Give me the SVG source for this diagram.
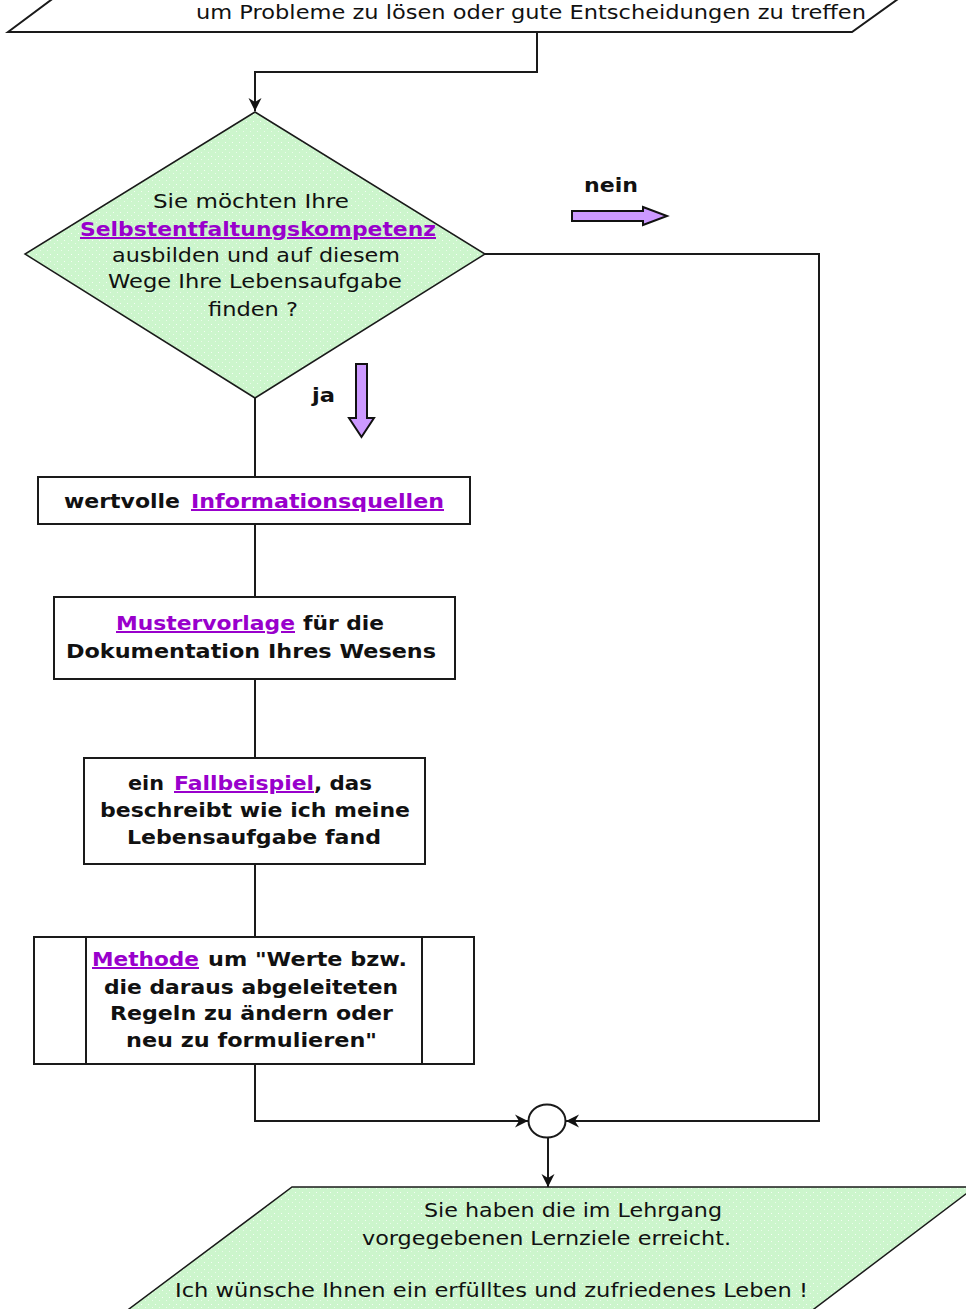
<svg xmlns="http://www.w3.org/2000/svg" width="966" height="1309" viewBox="0 0 966 1309">
<defs>
<style>
.ln{fill:none;stroke:#1a1a1a;stroke-width:2}
.box{fill:#ffffff;stroke:#1a1a1a;stroke-width:2}
.green{fill:url(#dots);stroke:#1a1a1a;stroke-width:1.5}
.t{font-family:"DejaVu Sans","Verdana",sans-serif;font-size:19px;fill:#111}
.b{font-family:"DejaVu Sans","Verdana",sans-serif;font-size:20px;font-weight:bold;fill:#111}
.lk{fill:#9900cc;text-decoration:underline}
.blk{fill:#cc99ff;stroke:#111;stroke-width:2}
</style>
<pattern id="dots" width="7" height="7" patternUnits="userSpaceOnUse">
<rect width="7" height="7" fill="#ccf5cc"/>
<rect x="1" y="2" width="1" height="1" fill="#ffffff" opacity="0.8"/>
<rect x="5" y="5" width="1" height="1" fill="#ffffff" opacity="0.6"/>
</pattern>
<marker id="ah" markerWidth="16" markerHeight="16" refX="13" refY="7" orient="auto" markerUnits="userSpaceOnUse">
<path d="M0,0.5 L13,7 L0,13.5 L4,7 z" fill="#111"/>
</marker>
</defs>

<g id="start">
<path class="box" d="M8,32 L59,-6 L905,-6 L852,32 Z"/>
<text class="t" x="196" y="19" textLength="670" lengthAdjust="spacingAndGlyphs">um Probleme zu lösen oder gute Entscheidungen zu treffen</text>
</g>

<g id="connectors">
<path class="ln" d="M537,32 V72 H255 V111" marker-end="url(#ah)"/>
<path class="ln" d="M485,254 H819 V1121 H566" marker-end="url(#ah)"/>
<path class="ln" d="M255,398 V477 M255,524 V597 M255,679 V758 M255,864 V937"/>
<path class="ln" d="M255,1064 V1121 H528" marker-end="url(#ah)"/>
<path class="ln" d="M548,1138 V1187" marker-end="url(#ah)"/>
</g>

<g id="decision">
<polygon class="green" points="255,112 485,254 255,398 25,254"/>
<text class="t" x="153" y="208" textLength="196" lengthAdjust="spacingAndGlyphs">Sie möchten Ihre</text>
<text class="b lk" x="80" y="236" textLength="356" lengthAdjust="spacingAndGlyphs">Selbstentfaltungskompetenz</text>
<text class="t" x="112" y="262" textLength="288" lengthAdjust="spacingAndGlyphs">ausbilden und auf diesem</text>
<text class="t" x="108" y="288" textLength="294" lengthAdjust="spacingAndGlyphs">Wege Ihre Lebensaufgabe</text>
<text class="t" x="208" y="316" textLength="90" lengthAdjust="spacingAndGlyphs">finden ?</text>
</g>

<g id="nein">
<text class="b" x="584" y="192" textLength="54" lengthAdjust="spacingAndGlyphs">nein</text>
<polygon class="blk" points="572,211 643,211 643,207 667,216 643,225 643,221 572,221"/>
</g>

<g id="ja">
<text class="b" x="312" y="402" textLength="23" lengthAdjust="spacingAndGlyphs">ja</text>
<polygon class="blk" points="356,364 367,364 367,418 374,418 361.5,437 349,418 356,418"/>
</g>

<g id="informationsquellen">
<rect class="box" x="38" y="477" width="432" height="47"/>
<text class="b" x="64" y="508" textLength="116" lengthAdjust="spacingAndGlyphs">wertvolle</text>
<text class="b lk" x="191" y="508" textLength="253" lengthAdjust="spacingAndGlyphs">Informationsquellen</text>
</g>

<g id="mustervorlage">
<rect class="box" x="54" y="597" width="401" height="82"/>
<text class="b lk" x="116" y="630" textLength="179" lengthAdjust="spacingAndGlyphs">Mustervorlage</text>
<text class="b" x="303" y="630" textLength="81" lengthAdjust="spacingAndGlyphs">für die</text>
<text class="b" x="66" y="658" textLength="370" lengthAdjust="spacingAndGlyphs">Dokumentation Ihres Wesens</text>
</g>

<g id="fallbeispiel">
<rect class="box" x="84" y="758" width="341" height="106"/>
<text class="b" x="128" y="790" textLength="36" lengthAdjust="spacingAndGlyphs">ein</text>
<text class="b lk" x="174" y="790" textLength="140" lengthAdjust="spacingAndGlyphs">Fallbeispiel</text>
<text class="b" x="314" y="790" textLength="58" lengthAdjust="spacingAndGlyphs">, das</text>
<text class="b" x="100" y="817" textLength="310" lengthAdjust="spacingAndGlyphs">beschreibt wie ich meine</text>
<text class="b" x="127" y="844" textLength="254" lengthAdjust="spacingAndGlyphs">Lebensaufgabe fand</text>
</g>

<g id="methode">
<rect class="box" x="34" y="937" width="440" height="127"/>
<line class="ln" x1="86" y1="937" x2="86" y2="1064"/>
<line class="ln" x1="422" y1="937" x2="422" y2="1064"/>
<text class="b lk" x="92" y="966" textLength="107" lengthAdjust="spacingAndGlyphs">Methode</text>
<text class="b" x="208" y="966" textLength="199" lengthAdjust="spacingAndGlyphs">um "Werte bzw.</text>
<text class="b" x="104" y="994" textLength="294" lengthAdjust="spacingAndGlyphs">die daraus abgeleiteten</text>
<text class="b" x="110" y="1020" textLength="283" lengthAdjust="spacingAndGlyphs">Regeln zu ändern oder</text>
<text class="b" x="126" y="1047" textLength="251" lengthAdjust="spacingAndGlyphs">neu zu formulieren"</text>
</g>

<g id="merge">
<ellipse cx="547" cy="1121" rx="18.5" ry="16.5" fill="#ffffff" stroke="#1a1a1a" stroke-width="2"/>
</g>

<g id="end">
<polygon class="green" points="292,1187 975,1187 810,1312 125,1312"/>
<text class="t" x="424" y="1217" textLength="298" lengthAdjust="spacingAndGlyphs">Sie haben die im Lehrgang</text>
<text class="t" x="362" y="1245" textLength="369" lengthAdjust="spacingAndGlyphs">vorgegebenen Lernziele erreicht.</text>
<text class="t" x="175" y="1297" textLength="633" lengthAdjust="spacingAndGlyphs">Ich wünsche Ihnen ein erfülltes und zufriedenes Leben !</text>
</g>
</svg>
